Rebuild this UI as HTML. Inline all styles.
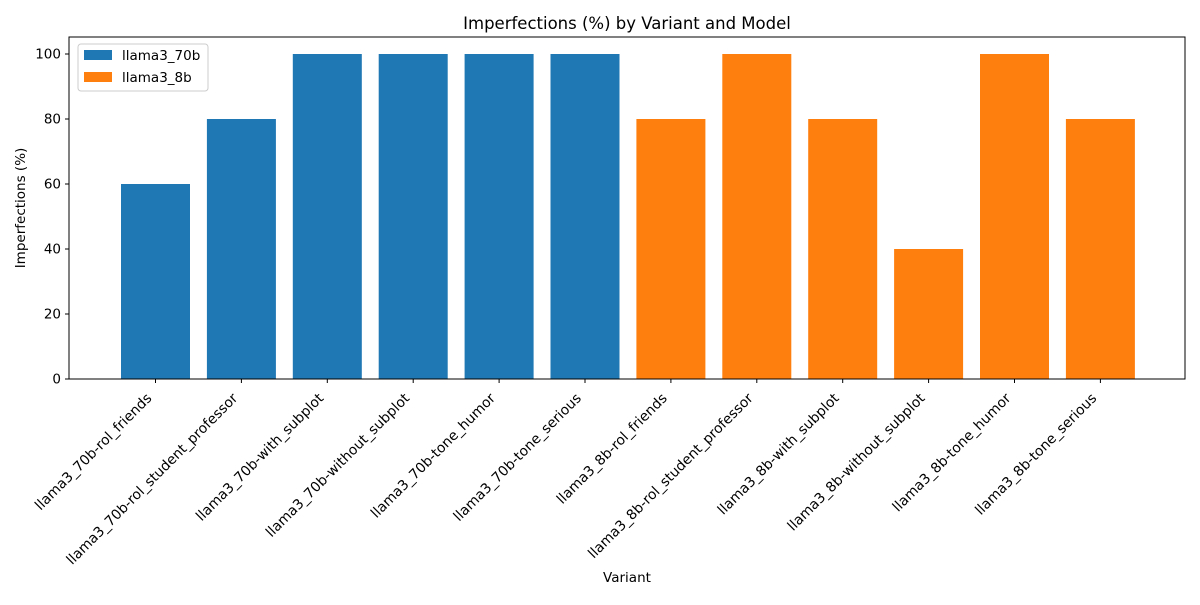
<!DOCTYPE html>
<html><head><meta charset="utf-8"><style>
body{margin:0;background:#fff;font-family:"Liberation Sans","DejaVu Sans",sans-serif;}
</style></head><body>
<svg width="1200" height="600" xmlns="http://www.w3.org/2000/svg" font-family="DejaVu Sans, Liberation Sans, sans-serif">
<rect width="1200" height="600" fill="#fff"/>
<text x="627" y="29" font-size="16.5" text-anchor="middle">Imperfections (%) by Variant and Model</text>
<g id="plot"></g>
<rect x="69" y="37" width="1116" height="342" fill="none" stroke="#000" stroke-width="1"/>
<text x="627" y="582" font-size="13.5" text-anchor="middle">Variant</text>
<text transform="translate(25,208) rotate(-90)" font-size="13.5" text-anchor="middle">Imperfections (%)</text>
<g>
<rect x="78" y="44" width="130" height="47" fill="#fff" stroke="#ccc" rx="3"/>
<rect x="84" y="50" width="28" height="10" fill="#1f77b4"/>
<text x="122" y="60" font-size="13.5">llama3_70b</text>
<rect x="84" y="72" width="28" height="10" fill="#ff7f0e"/>
<text x="122" y="82" font-size="13.5">llama3_8b</text>
</g>
</svg>
<script>
const categories=["llama3_70b-rol_friends","llama3_70b-rol_student_professor","llama3_70b-with_subplot","llama3_70b-without_subplot","llama3_70b-tone_humor","llama3_70b-tone_serious","llama3_8b-rol_friends","llama3_8b-rol_student_professor","llama3_8b-with_subplot","llama3_8b-without_subplot","llama3_8b-tone_humor","llama3_8b-tone_serious"];
const values=[60,80,100,100,100,100,80,100,80,40,100,80];
const models=["llama3_70b","llama3_70b","llama3_70b","llama3_70b","llama3_70b","llama3_70b","llama3_8b","llama3_8b","llama3_8b","llama3_8b","llama3_8b","llama3_8b"];
const yTicks=[0,20,40,60,80,100];
const NS="http://www.w3.org/2000/svg";
const g=document.getElementById('plot');
const y=v=>379-v*3.25;
const x=i=>155.5+i*85.9;
const colors={"llama3_70b":"#1f77b4","llama3_8b":"#ff7f0e"};
function mk(t,a){const e=document.createElementNS(NS,t);for(const k in a)e.setAttribute(k,a[k]);g.appendChild(e);return e;}
yTicks.forEach(v=>{
  const l=mk('line',{x1:65,x2:69,y1:y(v),y2:y(v),stroke:'#000'});
  
  
  const t=mk('text',{x:61,y:y(v)+4.5,'font-size':13.5,'text-anchor':'end'});t.textContent=v;
  
  
});
categories.forEach((c,i)=>{
  const r=mk('rect',{x:x(i)-34.5,y:y(values[i]),width:69,height:y(0)-y(values[i]),fill:colors[models[i]]});
  
  
  const l=mk('line',{x1:x(i),x2:x(i),y1:379,y2:383,stroke:'#000'});
  
  
  const t=mk('text',{transform:`translate(${x(i)-3},${399}) rotate(-45)`,'font-size':13.9,'text-anchor':'end'});t.textContent=c;
  
  
});
</script>
</body></html>
